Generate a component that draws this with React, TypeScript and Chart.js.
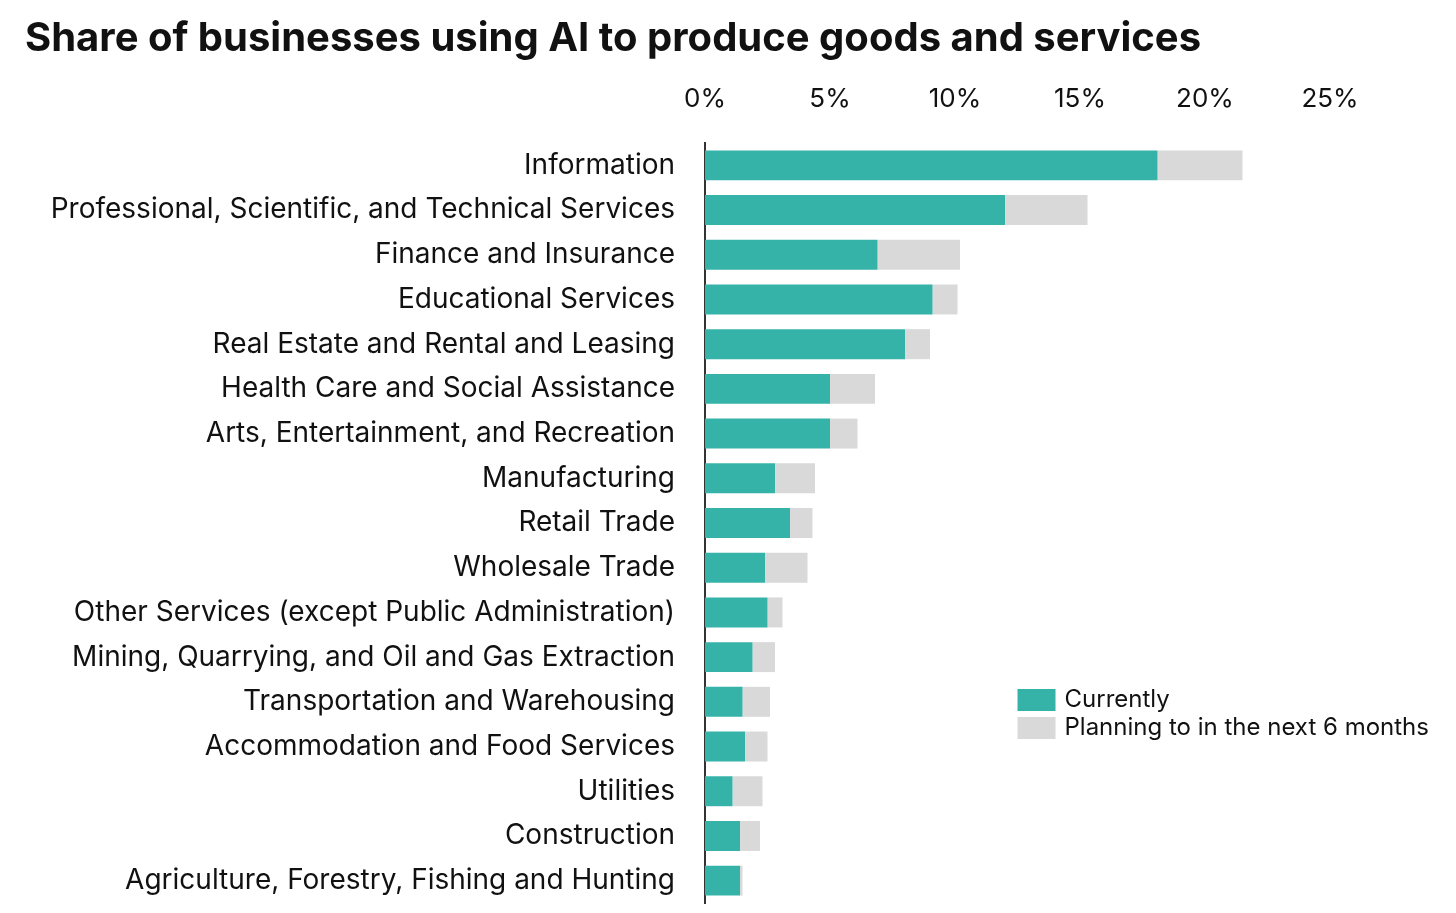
import React, { useEffect, useRef } from "react";
import { Chart, registerables } from "chart.js";

Chart.register(...registerables);

const chartTitle = "Share of businesses using AI to produce goods and services";

const categories = [
  "Information",
  "Professional, Scientific, and Technical Services",
  "Finance and Insurance",
  "Educational Services",
  "Real Estate and Rental and Leasing",
  "Health Care and Social Assistance",
  "Arts, Entertainment, and Recreation",
  "Manufacturing",
  "Retail Trade",
  "Wholesale Trade",
  "Other Services (except Public Administration)",
  "Mining, Quarrying, and Oil and Gas Extraction",
  "Transportation and Warehousing",
  "Accommodation and Food Services",
  "Utilities",
  "Construction",
  "Agriculture, Forestry, Fishing and Hunting",
];

const currently = [18.1, 12.0, 6.9, 9.1, 8.0, 5.0, 5.0, 2.8, 3.4, 2.4, 2.5, 1.9, 1.5, 1.6, 1.1, 1.4, 1.4];
const planning = [3.4, 3.3, 3.3, 1.0, 1.0, 1.8, 1.1, 1.6, 0.9, 1.7, 0.6, 0.9, 1.1, 0.9, 1.2, 0.8, 0.1];

const seriesNames = ["Currently", "Planning to in the next 6 months"];
const seriesColors = ["#36b3a8", "#d9d9d9"];

const xMin = 0;
const xMax = 25;
const xStep = 5;

const FONT = "Inter, 'Noto Sans', sans-serif";
const TEXT = "#111111";

const customLegend = {
  id: "customLegend",
  afterDraw(chart: any) {
    const { ctx, chartArea } = chart;
    const x0 = chartArea.left + (chartArea.right - chartArea.left) * 0.5;
    const y0 = chartArea.top + 546;
    const boxW = 38;
    const boxH = 22;
    const rowH = 28;
    ctx.save();
    ctx.font = `400 24px ${FONT}`;
    ctx.textBaseline = "middle";
    ctx.textAlign = "left";
    chart.data.datasets.forEach((ds: any, i: number) => {
      const y = y0 + i * rowH;
      ctx.fillStyle = ds.backgroundColor;
      ctx.fillRect(x0, y, boxW, boxH);
      ctx.fillStyle = TEXT;
      ctx.fillText(ds.label, x0 + boxW + 9, y + boxH / 2);
    });
    ctx.restore();
  },
};

export default function App() {
  const ref = useRef<HTMLCanvasElement>(null);

  useEffect(() => {
    if (!ref.current) return;
    const chart = new Chart(ref.current, {
      type: "bar",
      data: {
        labels: categories,
        datasets: [
          {
            label: seriesNames[0],
            data: currently,
            backgroundColor: seriesColors[0],
            borderWidth: 0,
            barPercentage: 0.67,
            categoryPercentage: 1,
          },
          {
            label: seriesNames[1],
            data: planning,
            backgroundColor: seriesColors[1],
            borderWidth: 0,
            barPercentage: 0.67,
            categoryPercentage: 1,
          },
        ],
      },
      options: {
        indexAxis: "y",
        animation: false,
        responsive: false,
        layout: { padding: { left: 25, right: 126, top: 0, bottom: 10 } },
        plugins: {
          legend: { display: false },
          tooltip: { enabled: false },
          title: {
            display: true,
            text: chartTitle,
            align: "start",
            color: TEXT,
            font: { family: FONT, size: 40, weight: "bold", lineHeight: 1.2 },
            padding: { top: 15, bottom: 8 },
          },
        },
        scales: {
          x: {
            position: "top",
            stacked: true,
            min: xMin,
            max: xMax,
            grid: { display: false, drawTicks: false },
            border: { display: false },
            ticks: {
              stepSize: xStep,
              padding: 28,
              color: TEXT,
              font: { family: FONT, size: 26, weight: "normal" },
              callback: (v: any) => `${v}%`,
            },
            afterFit: (scale: any) => {
              scale.height = 72;
            },
          },
          y: {
            stacked: true,
            grid: { display: false, drawTicks: false },
            border: { display: true, color: "#333333", width: 2 },
            ticks: {
              padding: 30,
              color: TEXT,
              font: { family: FONT, size: 28, weight: "normal" },
            },
            afterFit: (scale: any) => {
              scale.width = 680;
              scale.paddingTop = 0;
              scale.paddingBottom = 0;
            },
          },
        },
      },
      plugins: [customLegend],
    });
    return () => chart.destroy();
  }, []);

  return (
    <div style={{ position: "absolute", left: 0, top: 0, width: 1456, height: 913, background: "#fff" }}>
      <canvas ref={ref} width={1456} height={913} style={{ width: 1456, height: 913 }} />
    </div>
  );
}
